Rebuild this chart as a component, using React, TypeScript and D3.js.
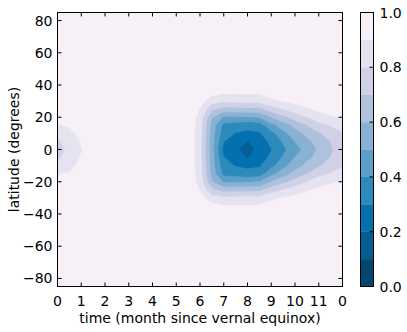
import React from 'react'
import * as d3 from 'd3'

// grid of the field: months along x, latitude along y
const months = [0, 0.5, 1, 1.5, 3, 5, 5.5, 6, 6.5, 7, 7.5, 8, 8.5, 9, 10, 11, 12]
const latitudes = [-85, -40, -35, -30, -25, -20, -15, -10, -5, 0, 5, 10, 15, 20, 25, 30, 35, 40, 85]

// one latitude profile (south -> north) per month above
const field = [
  [0.975, 0.97, 0.97, 0.965, 0.955, 0.935, 0.895, 0.83, 0.785, 0.76, 0.785, 0.83, 0.895, 0.935, 0.955, 0.965, 0.97, 0.97, 0.975],
  [0.975, 0.97, 0.97, 0.97, 0.96, 0.945, 0.91, 0.87, 0.84, 0.827, 0.84, 0.87, 0.91, 0.945, 0.96, 0.97, 0.97, 0.97, 0.975],
  [0.975, 0.97, 0.97, 0.97, 0.97, 0.96, 0.95, 0.935, 0.91, 0.895, 0.91, 0.935, 0.95, 0.96, 0.97, 0.97, 0.97, 0.97, 0.975],
  [0.975, 0.97, 0.97, 0.97, 0.97, 0.97, 0.96, 0.95, 0.94, 0.93, 0.94, 0.95, 0.96, 0.97, 0.97, 0.97, 0.97, 0.97, 0.975],
  [0.975, 0.975, 0.975, 0.975, 0.975, 0.975, 0.975, 0.975, 0.975, 0.975, 0.975, 0.975, 0.975, 0.975, 0.975, 0.975, 0.975, 0.975, 0.975],
  [0.975, 0.975, 0.975, 0.975, 0.975, 0.975, 0.975, 0.975, 0.975, 0.975, 0.975, 0.975, 0.975, 0.975, 0.975, 0.975, 0.975, 0.975, 0.975],
  [0.975, 0.975, 0.975, 0.975, 0.975, 0.98, 0.98, 0.98, 0.98, 0.98, 0.98, 0.98, 0.98, 0.98, 0.975, 0.975, 0.975, 0.975, 0.975],
  [0.975, 0.97, 0.96, 0.94, 0.895, 0.86, 0.845, 0.84, 0.835, 0.835, 0.835, 0.84, 0.845, 0.86, 0.895, 0.94, 0.96, 0.97, 0.975],
  [0.975, 0.965, 0.93, 0.84, 0.72, 0.61, 0.565, 0.55, 0.545, 0.54, 0.545, 0.55, 0.565, 0.61, 0.72, 0.84, 0.93, 0.965, 0.975],
  [0.975, 0.96, 0.905, 0.815, 0.66, 0.49, 0.37, 0.34, 0.305, 0.265, 0.305, 0.34, 0.37, 0.49, 0.66, 0.815, 0.905, 0.96, 0.975],
  [0.975, 0.96, 0.905, 0.825, 0.665, 0.49, 0.35, 0.295, 0.25, 0.22, 0.25, 0.295, 0.35, 0.49, 0.665, 0.825, 0.905, 0.96, 0.975],
  [0.975, 0.96, 0.905, 0.83, 0.67, 0.49, 0.33, 0.28, 0.195, 0.15, 0.195, 0.28, 0.33, 0.49, 0.67, 0.83, 0.905, 0.96, 0.975],
  [0.975, 0.96, 0.91, 0.83, 0.67, 0.505, 0.35, 0.29, 0.26, 0.24, 0.26, 0.29, 0.35, 0.505, 0.67, 0.83, 0.91, 0.96, 0.975],
  [0.975, 0.965, 0.94, 0.88, 0.75, 0.605, 0.47, 0.37, 0.32, 0.298, 0.32, 0.37, 0.47, 0.605, 0.75, 0.88, 0.94, 0.965, 0.975],
  [0.975, 0.97, 0.955, 0.925, 0.85, 0.74, 0.63, 0.56, 0.505, 0.46, 0.505, 0.56, 0.63, 0.74, 0.85, 0.925, 0.955, 0.97, 0.975],
  [0.975, 0.97, 0.965, 0.95, 0.92, 0.855, 0.77, 0.69, 0.64, 0.616, 0.64, 0.69, 0.77, 0.855, 0.92, 0.95, 0.965, 0.97, 0.975],
  [0.975, 0.97, 0.97, 0.96, 0.945, 0.91, 0.84, 0.79, 0.765, 0.756, 0.765, 0.79, 0.84, 0.91, 0.945, 0.96, 0.97, 0.97, 0.975],
]

const levels = [0, 0.1, 0.2, 0.3, 0.4, 0.5, 0.6, 0.7, 0.8, 0.9, 1.0]

const xTicks = [0, 1, 2, 3, 4, 5, 6, 7, 8, 9, 10, 11, 12]
const xTickLabels = ['0', '1', '2', '3', '4', '5', '6', '7', '8', '9', '10', '11', '0']
const yTicks = [-80, -60, -40, -20, 0, 20, 40, 60, 80]
const cTicks = [0, 0.2, 0.4, 0.6, 0.8, 1.0]
const cTickLabels = ['0.0', '0.2', '0.4', '0.6', '0.8', '1.0']

// PuBu reversed (colorbrewer anchors, as matplotlib uses them)
const puBuR = ['#023858', '#045a8d', '#0570b0', '#3690c0', '#74a9cf', '#a6bddb', '#d0d1e6', '#ece7f2', '#fff7fb']

const W = 407
const H = 332
const L = 57.5, R = 342.5, T = 12.5, B = 286.5
const CL = 360.5, CR = 373.5
const font = '"DejaVu Sans", sans-serif'
const fs = 14
const tick = 4

export default function App() {
  const x = d3.scaleLinear().domain([0, 12]).range([L, R])
  const y = d3.scaleLinear().domain([-85, 85]).range([B, T])
  const cy = d3.scaleLinear().domain([0, 1]).range([B, T])

  const cmap = d3.scaleLinear<string>()
    .domain(puBuR.map((_, i) => i / (puBuR.length - 1)))
    .range(puBuR)
    .interpolate(d3.interpolateRgb)

  const nx = months.length
  const ny = latitudes.length
  const values: number[] = []
  for (let j = 0; j < ny; j++) for (let i = 0; i < nx; i++) values.push(field[i][j])

  // grid index -> data coordinate (grid is not evenly spaced)
  const ix = d3.scaleLinear().domain(d3.range(nx)).range(months).clamp(true)
  const iy = d3.scaleLinear().domain(d3.range(ny)).range(latitudes).clamp(true)

  const proj = d3.geoTransform({
    point(px: number, py: number) {
      this.stream.point(x(ix(px - 0.5)), y(iy(py - 0.5)))
    },
  })
  const path = d3.geoPath(proj)

  const contours = d3.contours().size([nx, ny]).thresholds(levels.slice(0, -1))(values)

  const bands = levels.slice(0, -1).map((lo, k) => ({ lo, hi: levels[k + 1], color: cmap((lo + levels[k + 1]) / 2) }))

  return (
    <svg width={W} height={H} style={{ position: 'absolute', left: 0, top: 0, background: '#fff' }}
      fontFamily={font} fontSize={fs}>
      <defs>
        <clipPath id="plotclip">
          <rect x={L} y={T} width={R - L} height={B - T} />
        </clipPath>
      </defs>
      <g clipPath="url(#plotclip)">
        {contours.map((c, k) => (
          <path key={k} d={path(c as any) || ''} fill={bands[k].color} stroke={bands[k].color} strokeWidth={0.4} fillRule="evenodd" />
        ))}
      </g>
      <rect x={L} y={T} width={R - L} height={B - T} fill="none" stroke="#000" strokeWidth={1} />

      {/* x axis */}
      {xTicks.map((t, k) => (
        <g key={'x' + k}>
          <line x1={x(t)} x2={x(t)} y1={B} y2={B - tick} stroke="#000" />
          <line x1={x(t)} x2={x(t)} y1={T} y2={T + tick} stroke="#000" />
          <text x={x(t)} y={305.5} textAnchor="middle">{xTickLabels[k]}</text>
        </g>
      ))}
      <text x={(L + R) / 2} y={322.5} textAnchor="middle">time (month since vernal equinox)</text>

      {/* y axis */}
      {yTicks.map((t) => (
        <g key={'y' + t}>
          <line x1={L} x2={L + tick} y1={y(t)} y2={y(t)} stroke="#000" />
          <line x1={R} x2={R - tick} y1={y(t)} y2={y(t)} stroke="#000" />
          <text x={52.5} y={y(t) + 5} textAnchor="end">{t < 0 ? '\u2212' + Math.abs(t) : String(t)}</text>
        </g>
      ))}
      <text transform={`translate(18.5,${(T + B) / 2}) rotate(-90)`} textAnchor="middle">latitude (degrees)</text>

      {/* colorbar */}
      {bands.map((b, k) => (
        <rect key={'c' + k} x={CL} width={CR - CL} y={cy(b.hi)} height={cy(b.lo) - cy(b.hi)} fill={b.color} stroke={b.color} strokeWidth={0.3} />
      ))}
      <rect x={CL} y={T} width={CR - CL} height={B - T} fill="none" stroke="#000" strokeWidth={1} />
      {cTicks.map((t, k) => (
        <g key={'ct' + k}>
          <line x1={CR} x2={CR - tick} y1={cy(t)} y2={cy(t)} stroke="#000" />
          <text x={379.5} y={cy(t) + 5}>{cTickLabels[k]}</text>
        </g>
      ))}
    </svg>
  )
}
